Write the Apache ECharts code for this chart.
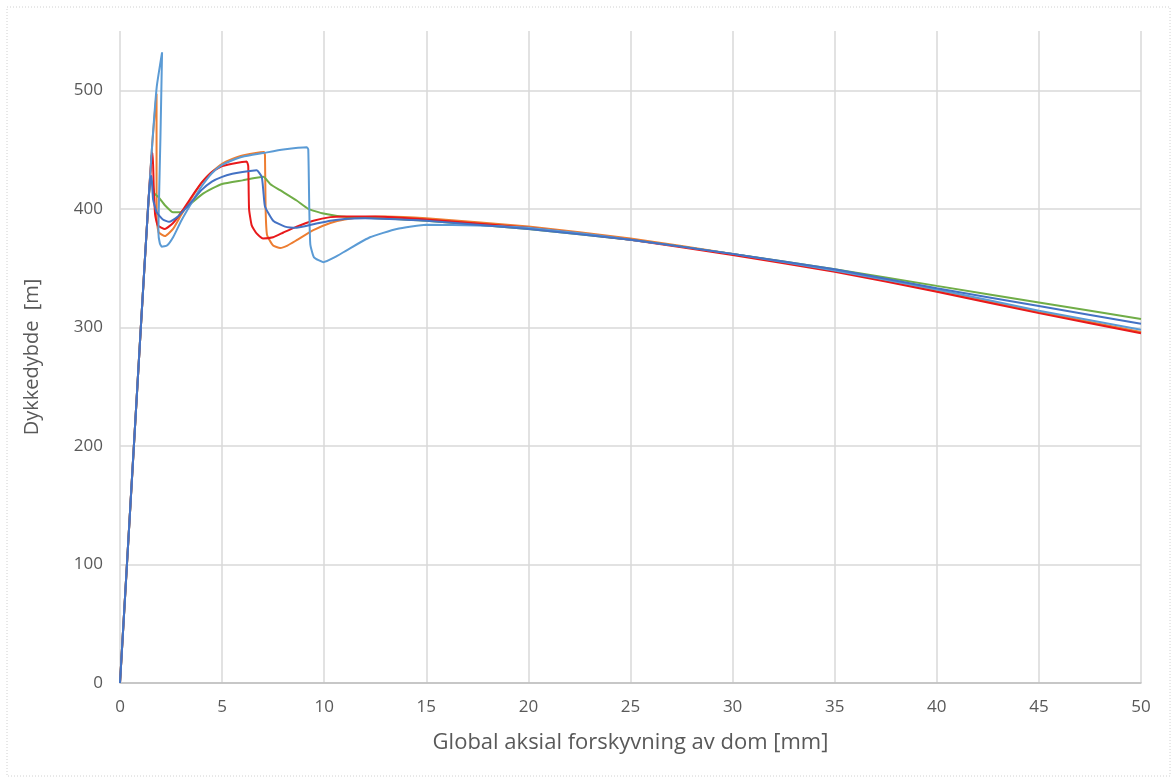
<!DOCTYPE html>
<html>
<head>
<meta charset="utf-8">
<script src="https://cdn.jsdelivr.net/npm/echarts@6/dist/echarts.min.js"></script>
<style>
  html, body { margin: 0; padding: 0; background: #ffffff; }
  #chart { width: 1174px; height: 778px; }
</style>
</head>
<body>
<div id="chart"></div>
<script>
// Axis tick settings
const xTicks = { min: 0, max: 50, step: 5 };
const yTicks = { min: 0, max: 550, step: 100 };

// Dive depth [m] against global axial displacement of the dome [mm], five runs
const seriesLightBlue = [
  [0, 0], [0.34, 100], [0.68, 200], [1.02, 300], [1.37, 400], [1.58, 455], [1.8, 503],
  [2.06, 532], [1.98, 460], [1.9, 400], [1.88, 380], [1.95, 371], [2.05, 368], [2.3, 369],
  [2.6, 376], [3, 390], [3.5, 405], [4, 419], [4.5, 430], [5, 437], [5.5, 441], [6, 444],
  [7, 447], [8, 450], [9.15, 452], [9.22, 450], [9.27, 400], [9.32, 370], [9.5, 359],
  [9.96, 355], [10.5, 359], [11.1, 365], [12.24, 376], [13.55, 383], [15, 386.5],
  [17.5, 386], [20, 384], [25, 374], [30, 362], [35, 348], [40, 332], [45, 314], [50, 298]
];
const seriesOrange = [
  [0, 0], [0.34, 100], [0.68, 200], [1.02, 300], [1.37, 400], [1.58, 455], [1.74, 488],
  [1.79, 497], [1.79, 440], [1.8, 390], [1.9, 380], [2.2, 377], [2.6, 383], [3, 395],
  [3.5, 409], [4, 422], [4.5, 431], [5, 438], [5.5, 442], [6, 445], [7.05, 448],
  [7.1, 445], [7.13, 400], [7.2, 378], [7.5, 369], [7.84, 367], [8.2, 369], [8.65, 373.5],
  [9.47, 382], [10.3, 388], [11, 391], [12, 393], [13, 393.5], [15, 392], [20, 385],
  [25, 375], [30, 362], [35, 348], [40, 331], [45, 313], [50, 296]
];
const seriesRed = [
  [0, 0], [0.34, 100], [0.68, 200], [1.02, 300], [1.37, 400], [1.55, 445], [1.6, 447],
  [1.65, 420], [1.72, 395], [1.85, 386], [2.2, 383], [2.6, 388], [3, 397], [3.5, 410],
  [4, 422], [4.5, 431], [5, 436], [5.5, 438], [6.2, 440], [6.28, 436], [6.32, 400],
  [6.45, 386], [6.7, 379], [7, 375], [7.5, 376], [8, 380], [8.65, 385], [9.47, 390],
  [10.3, 393], [11, 393.5], [12.5, 393.5], [15, 391], [20, 384], [25, 374], [30, 361],
  [35, 347], [40, 330], [45, 312], [50, 295]
];
const seriesDarkBlue = [
  [0, 0], [0.34, 100], [0.68, 200], [1.02, 300], [1.37, 400], [1.48, 425], [1.54, 428],
  [1.62, 408], [1.8, 397], [2.1, 391], [2.4, 389], [2.8, 393], [3.2, 400], [3.5, 406],
  [4, 416], [4.5, 423], [5, 427], [5.5, 429.5], [6, 431], [6.69, 432.5], [6.94, 427],
  [7.02, 415], [7.1, 402], [7.5, 390], [8.08, 385], [8.65, 384], [9.47, 387],
  [10.3, 390], [11, 391.5], [12, 392], [15, 390], [20, 383], [25, 374], [30, 362],
  [35, 349], [40, 333], [45, 318], [50, 303]
];
const seriesGreen = [
  [0, 0], [0.34, 100], [0.68, 200], [1.02, 300], [1.37, 400], [1.48, 422], [1.54, 424],
  [1.68, 413], [1.88, 410], [2.2, 403], [2.6, 397], [2.94, 397], [3.3, 402], [4, 412],
  [4.5, 417], [5, 421], [6, 424], [7.02, 427], [7.35, 421], [7.84, 415.7], [8.65, 407],
  [9.22, 400], [9.96, 396], [11.1, 393], [12, 392.5], [15, 390], [20, 383], [25, 374],
  [30, 362], [35, 349], [40, 335], [45, 321], [50, 307]
];

const runs = [
  { data: seriesOrange, color: '#ed7d31' },
  { data: seriesGreen, color: '#70ad47' },
  { data: seriesRed, color: '#e8191b' },
  { data: seriesLightBlue, color: '#5b9bd5' },
  { data: seriesDarkBlue, color: '#4472c4' }
];

const font = '"Open Sans", "Liberation Sans", sans-serif';
const gridColor = '#d9d9d9';

const chart = echarts.init(document.getElementById('chart'), null, { renderer: 'canvas' });
chart.setOption({
  backgroundColor: '#ffffff',
  animation: false,
  graphic: [{
    type: 'rect',
    shape: { x: 7, y: 7, width: 1163, height: 769 },
    style: { fill: 'none', stroke: '#d0d0d0', lineWidth: 1, lineDash: [1, 2] },
    silent: true
  }],
  grid: { left: 120, right: 33, top: 31, bottom: 95, containLabel: false },
  xAxis: {
    type: 'value',
    min: xTicks.min, max: xTicks.max, interval: xTicks.step,
    name: 'Global aksial forskyvning av dom [mm]',
    nameLocation: 'middle', nameGap: 49,
    nameTextStyle: { fontFamily: font, fontSize: 22, color: '#595959' },
    axisLine: { show: true, onZero: false, lineStyle: { color: '#bfbfbf', width: 1.5 } },
    axisTick: { show: false },
    axisLabel: { fontFamily: font, fontSize: 17, color: '#595959', margin: 16 },
    splitLine: { show: true, lineStyle: { color: gridColor, width: 1.5 } }
  },
  yAxis: {
    type: 'value',
    min: yTicks.min, max: yTicks.max, interval: yTicks.step,
    name: 'Dykkedybde  [m]',
    nameLocation: 'middle', nameGap: 78,
    nameTextStyle: { fontFamily: font, fontSize: 20, color: '#595959' },
    axisLine: { show: false },
    axisTick: { show: false },
    axisLabel: { fontFamily: font, fontSize: 17, color: '#595959', margin: 17, showMaxLabel: false },
    splitLine: { show: true, showMaxLine: false, lineStyle: { color: gridColor, width: 1.5 } }
  },
  series: runs.map(r => ({
    type: 'line',
    data: r.data,
    showSymbol: false,
    symbol: 'none',
    smooth: 0.15,
    lineStyle: { color: r.color, width: 2 },
    itemStyle: { color: r.color },
    emphasis: { disabled: true }
  }))
});
</script>
</body>
</html>
